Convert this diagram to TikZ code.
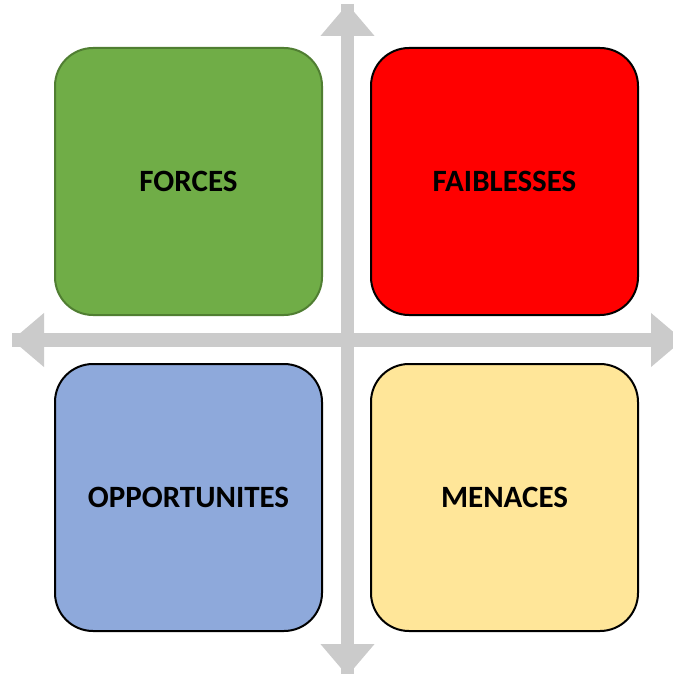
\documentclass[tikz,border=0pt]{standalone}
\usepackage{fontspec}
\setmainfont{Carlito}
\usepackage{xcolor}
\usetikzlibrary{positioning,arrows.meta}

\definecolor{forcesgreen}{HTML}{70AD47}
\definecolor{forcesedge}{HTML}{507E32}
\definecolor{faibred}{HTML}{FF0000}
\definecolor{oppblue}{HTML}{8EA9DB}
\definecolor{menyellow}{HTML}{FFE699}
\definecolor{axisgray}{HTML}{CBCBCB}

\begin{document}
\begin{tikzpicture}[x=1pt,y=-1pt,
  quad/.style={rounded corners=38pt, minimum size=267pt, line width=2pt,
    draw=black, font=\fontsize{31}{31}\selectfont\bfseries, inner sep=0pt},
  axis/.style={axisgray, line width=13.5pt,
    -{Triangle[width=52pt,length=32pt]}}]

\useasboundingbox (0,0) rectangle (672,674);

% axes
\coordinate (top) at (347.5,4);
\coordinate (bottom) at (347.5,676);
\coordinate (left) at (12,340);
\coordinate (right) at (683,340);
\draw[axis] (bottom) -- (top);
\draw[axis] (top) -- (bottom);
\draw[axis] (right) -- (left);
\draw[axis] (left) -- (right);

% the four quadrants
\node[quad, fill=forcesgreen, draw=forcesedge] (forces) at (188.5,181.5) {FORCES};
\node[quad, fill=faibred] (faiblesses) at (504.5,181.5) {FAIBLESSES};
\node[quad, fill=oppblue] (opportunites) at (188.5,497.5) {OPPORTUNITES};
\node[quad, fill=menyellow] (menaces) at (504.5,497.5) {MENACES};

\end{tikzpicture}
\end{document}
